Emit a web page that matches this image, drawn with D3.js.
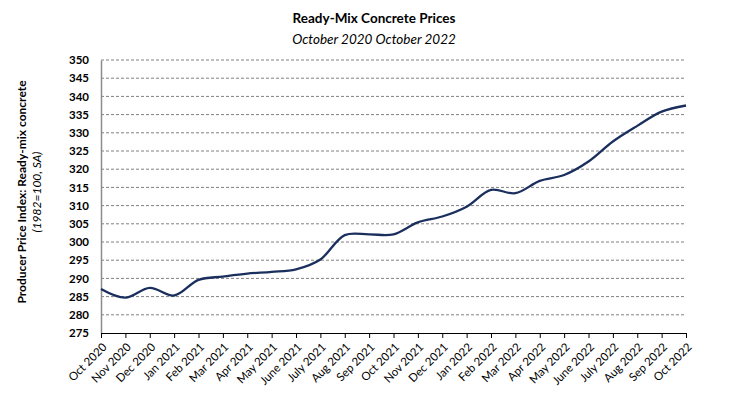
<!DOCTYPE html>
<html>
<head>
<meta charset="utf-8">
<script src="https://cdn.jsdelivr.net/npm/d3@7"></script>
<style>
  body { margin: 0; background: #fff; }
  text { font-family: Lato, "Open Sans", sans-serif; }
</style>
</head>
<body>
<div id="chart"></div>
<script>
// months shown on the x axis
const months = ["Oct 2020", "Nov 2020", "Dec 2020", "Jan 2021", "Feb 2021", "Mar 2021",
  "Apr 2021", "May 2021", "June 2021", "July 2021", "Aug 2021", "Sep 2021", "Oct 2021",
  "Nov 2021", "Dec 2021", "Jan 2022", "Feb 2022", "Mar 2022", "Apr 2022", "May 2022",
  "June 2022", "July 2022", "Aug 2022", "Sep 2022", "Oct 2022"];

// PPI ready-mix concrete (1982=100, SA)
const ppi = [287.1, 284.7, 287.4, 285.3, 289.6, 290.5, 291.3, 291.8, 292.5, 295.2,
  301.9, 302.1, 302.1, 305.4, 307.0, 309.7, 314.3, 313.4, 316.8, 318.4,
  322.1, 327.6, 331.9, 335.8, 337.5];

const yTicks = d3.range(275, 351, 5);

const width = 754, height = 393;
const margin = {top: 60, right: 68, bottom: 60, left: 101};

const svg = d3.select("#chart").append("svg")
    .attr("width", width)
    .attr("height", height);

const x = d3.scalePoint()
    .domain(months)
    .range([margin.left, width - margin.right]);

const y = d3.scaleLinear()
    .domain([275, 350])
    .range([height - margin.bottom, margin.top]);

// dashed gridlines
svg.append("g")
    .selectAll("line")
    .data(yTicks.filter(d => d > 275))
    .enter().append("line")
    .attr("x1", margin.left)
    .attr("x2", width - margin.right)
    .attr("y1", d => y(d))
    .attr("y2", d => y(d))
    .attr("stroke", "#808080")
    .attr("stroke-width", 1)
    .attr("stroke-dasharray", "3,2");

// y axis
const yAxis = svg.append("g")
    .attr("transform", "translate(" + margin.left + ",0)")
    .call(d3.axisLeft(y).tickValues(yTicks).tickSize(0).tickPadding(12));
yAxis.select(".domain").attr("stroke", "#8c8c8c").attr("stroke-width", 1.5);
yAxis.selectAll("text")
    .style("font-size", "11.5px")
    .style("font-weight", "bold")
    .attr("fill", "#000");

// x axis
const xAxis = svg.append("g")
    .attr("transform", "translate(0," + y(275) + ")")
    .call(d3.axisBottom(x).tickSize(5).tickSizeOuter(0));
xAxis.select(".domain").attr("stroke", "#000").attr("stroke-width", 1.2);
xAxis.selectAll(".tick line").attr("stroke", "#000");
xAxis.selectAll("text")
    .style("font-size", "11.5px")
    .attr("fill", "#000")
    .attr("text-anchor", "end")
    .attr("y", 0)
    .attr("dy", "0.35em")
    .attr("transform", "translate(3,12) rotate(-45)");

// price line
const line = d3.line()
    .x((d, i) => x(months[i]))
    .y(d => y(d))
    .curve(d3.curveCatmullRom.alpha(0.5));

svg.append("path")
    .datum(ppi)
    .attr("fill", "none")
    .attr("stroke", "#1b2f5e")
    .attr("stroke-width", 2.3)
    .attr("d", line);

// titles
svg.append("text")
    .attr("x", 374)
    .attr("y", 23)
    .attr("text-anchor", "middle")
    .style("font-size", "13.5px")
    .style("font-weight", "bold")
    .text("Ready-Mix Concrete Prices");

svg.append("text")
    .attr("x", 374)
    .attr("y", 44)
    .attr("text-anchor", "middle")
    .style("font-size", "13.5px")
    .style("font-style", "italic")
    .text("October 2020 October 2022");

// y axis label
const yl = svg.append("text")
    .attr("transform", "translate(0,192) rotate(-90)")
    .attr("text-anchor", "middle");
yl.append("tspan")
    .attr("x", 0)
    .attr("y", 26)
    .style("font-size", "12px")
    .style("font-weight", "bold")
    .text("Producer Price Index: Ready-mix concrete");
yl.append("tspan")
    .attr("x", 0)
    .attr("y", 41)
    .style("font-size", "12px")
    .style("font-style", "italic")
    .text("(1982=100, SA)");
</script>
</body>
</html>
